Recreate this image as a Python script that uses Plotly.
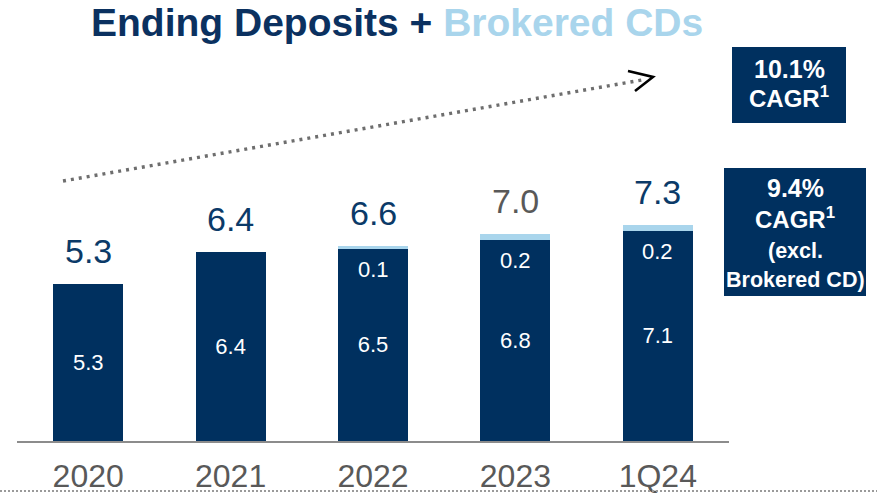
import plotly.graph_objects as go

# Ending deposits (ex. brokered CDs) and brokered CDs, $B
periods = ["2020", "2021", "2022", "2023", "1Q24"]
core_deposits = [5.3, 6.4, 6.5, 6.8, 7.1]
brokered_cds = [0.0, 0.0, 0.1, 0.2, 0.2]
totals = [5.3, 6.4, 6.6, 7.0, 7.3]

cagr_total = "10.1%"
cagr_core = "9.4%"

NAVY = "#00305F"
LIGHT = "#A9D5EC"
GRAY_TXT = "#595959"
FONT = "Liberation Sans, Arial, sans-serif"

W, H = 877, 494
ML, MR, MT, MB = 17, 148, 60, 53
PW, PH = W - ML - MR, H - MT - MB
Y_MAX = PH / 29.6

pos = list(range(len(periods)))


def px(x):
    return (x - ML) / PW


def py(y):
    return (H - MB - y) / PH


fig = go.Figure()
fig.add_bar(
    x=pos, y=core_deposits, marker_color=NAVY, marker_line_width=0,
    text=[f"{v:.1f}" for v in core_deposits], textposition="inside",
    insidetextanchor="middle", textangle=0,
    textfont=dict(color="white", size=22, family=FONT),
)
fig.add_bar(
    x=pos, y=brokered_cds, marker_color=LIGHT, marker_line_width=0,
)

annotations = []
# total labels above each stack
for i, (p, t) in enumerate(zip(periods, totals)):
    annotations.append(dict(
        x=i, y=t, xref="x", yref="y", text=f"{t:.1f}", showarrow=False,
        yanchor="middle", yshift=33,
        font=dict(size=34, family=FONT, color=GRAY_TXT if p == "2023" else "#0B3A68"),
    ))
# brokered CD values, placed just under the light segment
for i, (c, b) in enumerate(zip(core_deposits, brokered_cds)):
    if b > 0:
        annotations.append(dict(
            x=i, y=c, xref="x", yref="y", text=f"{b:.1f}", showarrow=False,
            yanchor="middle", yshift=-21,
            font=dict(size=22, family=FONT, color="white"),
        ))

# title
annotations.append(dict(
    x=px(397), y=py(22), xref="paper", yref="paper", showarrow=False,
    xanchor="center", yanchor="middle",
    text="<b>Ending Deposits + <span style='color:%s'>Brokered CDs</span></b>" % LIGHT,
    font=dict(size=39, family=FONT, color="#0B3160"),
))

# CAGR callouts
box_lines = [
    (789, 69, f"<b>{cagr_total}</b>", 25),
    (789, 97, "<b>CAGR<sup>1</sup></b>", 24),
    (795, 188, f"<b>{cagr_core}</b>", 25),
    (795, 218, "<b>CAGR<sup>1</sup></b>", 24),
    (795, 251, "<b>(excl.</b>", 21.5),
    (795, 280, "<b>Brokered CD)</b>", 21.5),
]
for x, y, t, s in box_lines:
    annotations.append(dict(
        x=px(x), y=py(y), xref="paper", yref="paper", showarrow=False,
        xanchor="center", yanchor="middle", text=t,
        font=dict(size=s, family=FONT, color="white"),
    ))

shapes = [
    dict(type="rect", xref="paper", yref="paper", x0=px(732), x1=px(846),
         y0=py(123), y1=py(47), fillcolor=NAVY, line_width=0, layer="below"),
    dict(type="rect", xref="paper", yref="paper", x0=px(724), x1=px(866),
         y0=py(296), y1=py(168), fillcolor=NAVY, line_width=0, layer="below"),
    # growth trend arrow
    dict(type="line", xref="paper", yref="paper", x0=px(63), y0=py(181),
         x1=px(642), y1=py(80), line=dict(color="#6E6E6E", width=3.5, dash="3px,5px")),
    dict(type="path", xref="paper", yref="paper",
         path="M %f,%f L %f,%f L %f,%f" % (px(628), py(71), px(653), py(77), px(635), py(91)),
         line=dict(color="black", width=2.6)),
    # footer rule
    dict(type="line", xref="paper", yref="paper", x0=px(0), x1=px(877),
         y0=py(491), y1=py(491), line=dict(color="#9A9A9A", width=2, dash="2px,2px")),
]

fig.update_layout(
    width=W, height=H, barmode="stack", bargap=0.508, showlegend=False,
    margin=dict(l=ML, r=MR, t=MT, b=MB, autoexpand=False),
    paper_bgcolor="white", plot_bgcolor="white",
    annotations=annotations, shapes=shapes,
    xaxis=dict(type="linear", range=[-0.5, len(periods) - 0.5], automargin=False,
               tickmode="array", tickvals=pos, ticktext=periods,
               showline=True, linecolor="#8C8C8C", linewidth=2,
               showgrid=False, zeroline=False, ticks="outside", ticklen=6,
               tickcolor="rgba(0,0,0,0)",
               tickfont=dict(size=32, family=FONT, color=GRAY_TXT), fixedrange=True),
    yaxis=dict(visible=False, range=[0, Y_MAX], showgrid=False, zeroline=False,
               automargin=False),
    uniformtext=dict(mode=False),
)

fig.write_html("out.html", config={"displayModeBar": False})
